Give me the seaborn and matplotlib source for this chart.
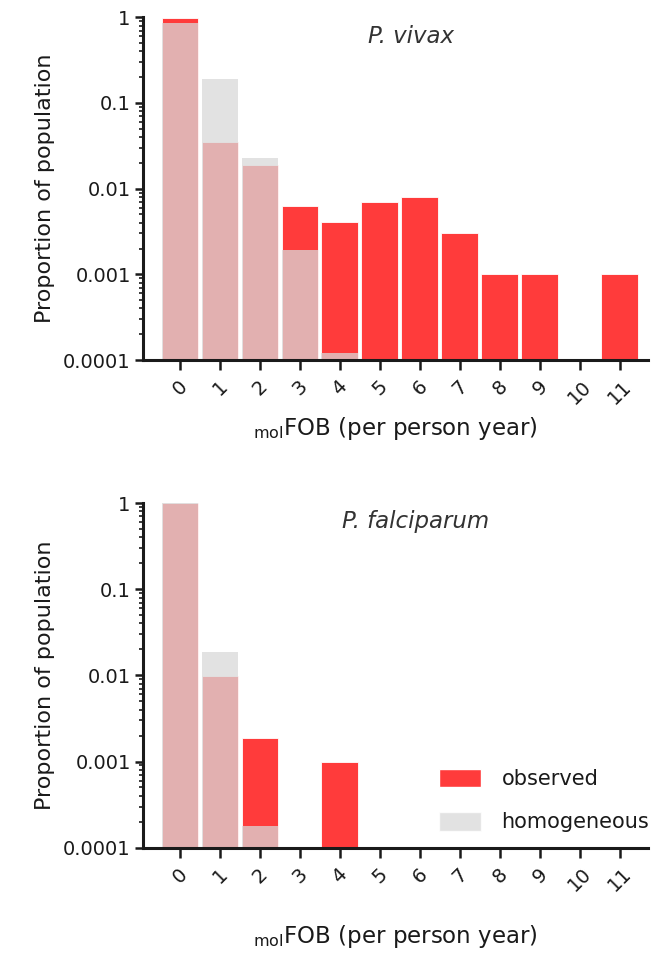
import seaborn as sns
from matplotlib import pyplot as plt
from matplotlib.patches import Patch
from matplotlib.ticker import FixedLocator, FixedFormatter, LogLocator, NullFormatter

categories = ["0", "1", "2", "3", "4", "5", "6", "7", "8", "9", "10", "11"]

vivax_observed = [0.98, 0.035, 0.019, 0.0062, 0.0041, 0.007, 0.008, 0.003, 0.001, 0.001, 0, 0.001]
vivax_homogeneous = [0.85, 0.19, 0.023, 0.0019, 0.00012, 0, 0, 0, 0, 0, 0, 0]

falc_observed = [0.99, 0.0098, 0.0019, 0, 0.001, 0, 0, 0, 0, 0, 0, 0]
falc_homogeneous = [0.99, 0.0185, 0.00018, 0, 0, 0, 0, 0, 0, 0, 0, 0]

y_ticks = [0.0001, 0.001, 0.01, 0.1, 1]
y_labels = ["0.0001", "0.001", "0.01", "0.1", "1"]

red = "#ff3b3b"
grey = "#d9d9d9"
ink = "#1a1a1a"

sns.set_style("ticks", {"axes.edgecolor": ink, "xtick.color": ink, "ytick.color": ink,
                        "text.color": ink, "axes.labelcolor": ink})
plt.rcParams['font.family'] = ['DejaVu Sans']

fig = plt.figure(figsize=(6.72, 9.6), dpi=100)
ax1 = fig.add_axes([0.213, 0.625, 0.751, 0.357])
ax2 = fig.add_axes([0.213, 0.117, 0.751, 0.359])


def draw_panel(ax, observed, homogeneous, title, title_x, xpad):
    sns.barplot(x=categories, y=observed, color=red, saturation=1, width=0.92,
                edgecolor="white", linewidth=0.6, ax=ax)
    sns.barplot(x=categories, y=homogeneous, color=grey, saturation=1, width=0.92,
                alpha=0.75, edgecolor="none", ax=ax)
    ax.set_yscale("log")
    ax.set_ylim(1e-4, 1)
    ax.set_xlim(-0.92, 11.7)
    ax.yaxis.set_major_locator(FixedLocator(y_ticks))
    ax.yaxis.set_major_formatter(FixedFormatter(y_labels))
    ax.yaxis.set_minor_locator(LogLocator(base=10, subs=range(2, 10)))
    ax.yaxis.set_minor_formatter(NullFormatter())
    ax.tick_params(axis="y", which="major", length=6, width=1.8, labelsize=14, pad=3)
    ax.tick_params(axis="y", which="minor", length=3, width=1.2)
    ax.tick_params(axis="x", length=7, width=1.8, labelsize=14, pad=5)
    for lbl in ax.get_xticklabels():
        lbl.set_rotation(45)
        lbl.set_ha("center")
    for side in ["left", "bottom"]:
        ax.spines[side].set_linewidth(2.2)
    sns.despine(ax=ax)
    ax.set_ylabel("Proportion of population", fontsize=16, labelpad=6)
    ax.set_xlabel(r"$_{\mathrm{mol}}$FOB (per person year)", fontsize=16.5, labelpad=xpad)
    ax.text(title_x, 0.945, title, transform=ax.transAxes, fontsize=16.5,
            style="italic", ha="center", va="center", color="#333333")


draw_panel(ax1, vivax_observed, vivax_homogeneous, "P. vivax", 0.53, 5)
draw_panel(ax2, falc_observed, falc_homogeneous, "P. falciparum", 0.54, 20)

handles = [Patch(facecolor=red, label="observed"),
           Patch(facecolor=grey, alpha=0.75, label="homogeneous")]
ax2.legend(handles=handles, loc="lower right", bbox_to_anchor=(1.04, -0.01),
           frameon=False, fontsize=15, handlelength=2.0, handleheight=1.0,
           handletextpad=1.0, labelspacing=1.1)

fig.savefig("out.png", dpi=100)
